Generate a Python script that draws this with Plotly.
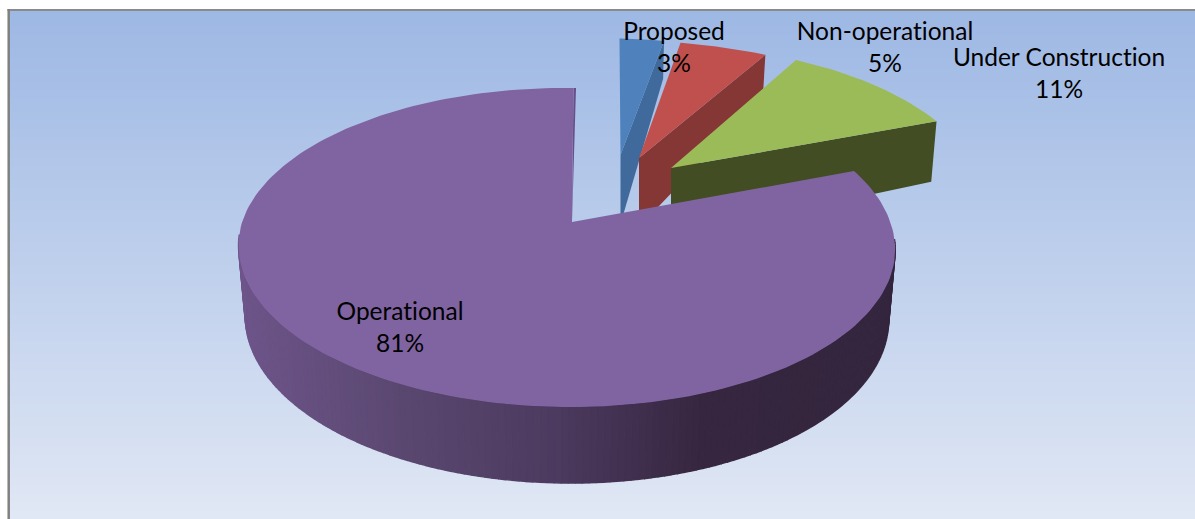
import numpy as np
import plotly.graph_objects as go

# ---- data ----
categories = ["Proposed", "Non-operational", "Under Construction", "Operational"]
values = [3, 5, 11, 81]

# ---- styles ----
top_colors = ["#4f81bd", "#c0504d", "#9bbb59", "#8064a2"]
side_colors = ["#3f6a9b", "#853735", "#424d24", "#4d3a62"]
# exploded slice origin (axis px), plane scale and skew per slice
explode = [(620.5, 155, 0.85, 0.87, -1), (639, 158, 1.0, 0.88, -11), (671, 168, 0.953, 0.92, -5.3), (572, 222, 1.0, 1.0, 3.5)]
label_pos = [(674, 49.5), (885, 49.5), (1059, 75.5), (400, 329.5)]
wall_stops_x = [240, 400, 560, 700, 880]
wall_stops_rgb = np.array([[110, 85, 138], [91, 72, 113], [76, 58, 95], [55, 39, 64], [52, 38, 62]])
R, A, K, M, TILT = 324.0, 155.4, 0.16, 0.0155, 2.5

total = sum(values)
edges = np.concatenate([[0], np.cumsum(values)]) / total


def top_xy(frac, origin):
    ax, ay, sx, sy, sk = origin
    t = 2 * np.pi * np.asarray(frac, float)
    u, v = np.sin(t), np.cos(t)
    den = 1 + K * v + M * u
    return ax + sx * R * u / den + sk * np.maximum(v, 0), ay - sy * A * v / den + TILT * u


def bottom_xy(frac, origin):
    x, y = top_xy(frac, origin)
    v = np.cos(2 * np.pi * np.asarray(frac, float))
    d = np.where(v < 0, 69 - 7 * v, 69 - 18 * v - 14 * v * v)
    return origin[0] + 0.98 * (x - origin[0]), y + d


def poly(x, y, color, lw=0):
    return go.Scatter(x=list(x), y=list(y), mode="lines", fill="toself", fillcolor=color,
                      line=dict(color=color, width=lw), hoverinfo="skip", showlegend=False)


fig = go.Figure()

# background gradient
bg_edges = np.linspace(10, 519, 121)
bg_mid = (bg_edges[:-1] + bg_edges[1:]) / 2
fig.add_trace(go.Heatmap(x=[9, 1195], y=bg_edges, z=[[v] for v in bg_mid], showscale=False, hoverinfo="skip",
                         zmin=10, zmax=519,
                         colorscale=[[0, "rgb(157,184,228)"], [0.85, "rgb(214,224,242)"], [1, "rgb(225,232,245)"]]))

# exploded slices, back to front
for i in range(3):
    o = explode[i]
    e0, e1 = edges[i], edges[i + 1]
    tx1, ty1 = top_xy(e1, o)
    bx1, by1 = bottom_xy(e1, o)
    ax, ay = o[0], o[1]
    fig.add_trace(poly([ax, tx1, bx1, ax], [ay, ty1, by1, ay + 69], side_colors[i]))
    f = np.linspace(e0, e1, 30)
    tx, ty = top_xy(f, o)
    fig.add_trace(poly(np.r_[ax, tx, ax], np.r_[ay, ty, ay], top_colors[i]))

# main slice: outer wall as gradient strips
o = explode[3]
wall = np.linspace(0.265, 0.735, 160)
for a, b in zip(wall[:-1], wall[1:]):
    ta, ya = top_xy(a, o)
    tb, yb = top_xy(b, o)
    ba, za = bottom_xy(a, o)
    bb, zb = bottom_xy(b, o)
    mid = (ta + tb) / 2
    rgb = [int(np.interp(mid, wall_stops_x, wall_stops_rgb[:, c])) for c in range(3)]
    fig.add_trace(poly([ta, tb, bb, ba], [ya, yb, zb, za], f"rgb({rgb[0]},{rgb[1]},{rgb[2]})", 1.5))

# main slice: sliver of the cut face, then the top
sx, sy = top_xy(1.0, o)
fig.add_trace(poly([o[0], sx + 0.5, sx - 2], [o[1], sy, sy], "#67508a"))
f = np.linspace(edges[3], 1.0 - 0.0012, 200)
tx, ty = top_xy(f, o)
fig.add_trace(poly(np.r_[o[0], tx, o[0]], np.r_[o[1], ty, o[1]], top_colors[3]))

# labels
fig.add_trace(go.Scatter(
    x=[p[0] for p in label_pos], y=[p[1] for p in label_pos], mode="text",
    text=[f"{c}<br>{round(100 * val / total)}%" for c, val in zip(categories, values)],
    textposition="middle center", textfont=dict(family="Lato", size=24.5, color="#000000"),
    hoverinfo="skip", showlegend=False))

fig.update_layout(
    width=1195, height=519, autosize=False, margin=dict(l=0, r=0, t=0, b=0),
    paper_bgcolor="white", plot_bgcolor="white", showlegend=False,
    xaxis=dict(range=[0, 1195], visible=False, fixedrange=True),
    yaxis=dict(range=[519, 0], visible=False, fixedrange=True),
    shapes=[
        dict(type="line", x0=7.5, x1=1195, y0=10, y1=10, line=dict(color="#8a8a8a", width=2), layer="above"),
        dict(type="line", x0=8.7, x1=8.7, y0=9, y1=519, line=dict(color="#808080", width=2.5), layer="above"),
    ],
)
post = ("document.body.style.margin='0';document.documentElement.style.overflow='hidden';"
        "var s=document.createElement('style');"
        "s.textContent='svg text{font-variant-ligatures:none !important;font-feature-settings:\"liga\" 0,\"clig\" 0 !important;}';"
        "document.head.appendChild(s);")
fig.write_html("out.html", config=dict(displayModeBar=False), post_script=post)
